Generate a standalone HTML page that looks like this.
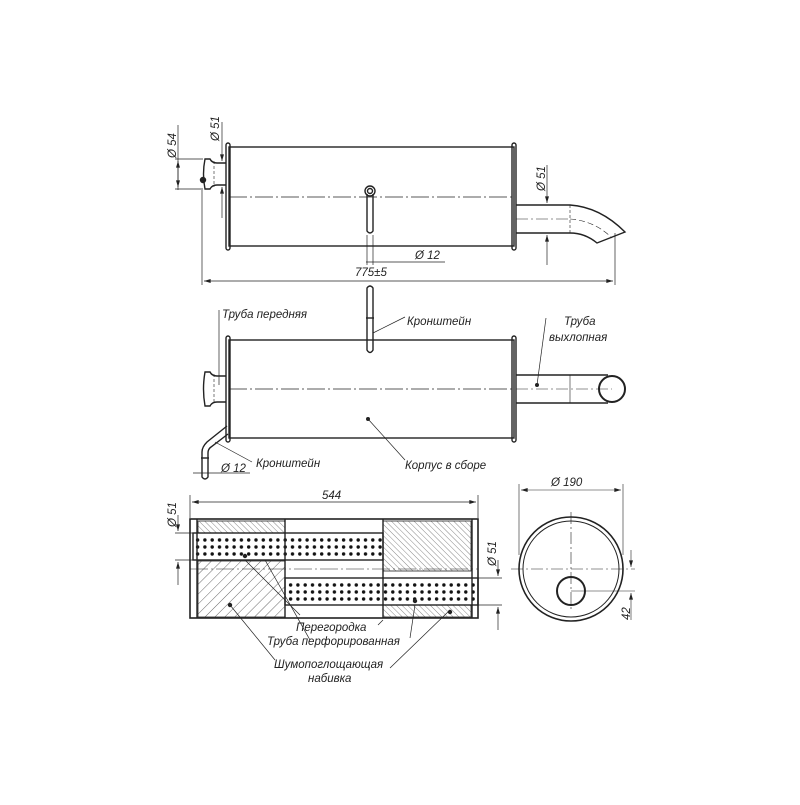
<!DOCTYPE html>
<html><head><meta charset="utf-8"><style>
html,body{margin:0;padding:0;background:#fff}
svg text{font-family:"Liberation Sans",sans-serif;font-style:italic;fill:#222}
</style></head><body>
<svg width="800" height="800" viewBox="0 0 800 800" xmlns="http://www.w3.org/2000/svg">
<defs>
<pattern id="h1" width="7" height="7" patternUnits="userSpaceOnUse" patternTransform="rotate(45)">
<line x1="0" y1="0" x2="0" y2="7" stroke="#444" stroke-width="0.8"/></pattern>
<pattern id="h2" width="4" height="4" patternUnits="userSpaceOnUse" patternTransform="rotate(-45)">
<line x1="0" y1="0" x2="0" y2="4" stroke="#555" stroke-width="0.7"/></pattern>
<pattern id="d1" x="194" y="536.5" width="7.3" height="7" patternUnits="userSpaceOnUse">
<circle cx="3.6" cy="3.5" r="1.7" fill="#111"/></pattern>
<pattern id="d2" x="287" y="581.5" width="7.3" height="7" patternUnits="userSpaceOnUse">
<circle cx="3.6" cy="3.5" r="1.7" fill="#111"/></pattern>
<marker id="a" viewBox="0 0 10 6" refX="10" refY="3" markerWidth="10" markerHeight="4" orient="auto-start-reverse" markerUnits="userSpaceOnUse"><path d="M0,0 L10,3 L0,6z" fill="#222"/></marker>
</defs>
<g stroke="#222" fill="none" stroke-width="1.4">
<!-- VIEW 1 -->
<rect x="229" y="147" width="285" height="99"/>
<rect x="226" y="143" width="4" height="107" rx="2"/>
<rect x="512" y="143" width="4" height="107" rx="2"/>
<path d="M226,163 H217 Q212,163 210,159 H205 Q202,174 205,189 H210 Q212,185 217,185 H226"/>
<line x1="214" y1="161" x2="214" y2="187" stroke-width="0.6" stroke-dasharray="3,2"/>
<circle cx="203" cy="180" r="2.5" fill="#222"/>
<line x1="229" y1="197" x2="514" y2="197" stroke-width="0.7" stroke-dasharray="18,3,2,3"/>
<circle cx="370" cy="191" r="5"/><circle cx="370" cy="191" r="2.5"/>
<path d="M367,194 V231 Q370,235 373,231 V194"/>
<path d="M516,205 H570 Q600,207 625,232 L597,243 Q585,233 570,233 H516"/>
<line x1="570" y1="205" x2="570" y2="233" stroke-width="0.6" stroke-dasharray="3,2"/>
<line x1="516" y1="219" x2="570" y2="219" stroke-width="0.6" stroke-dasharray="12,3,2,3"/>
<path d="M570,219 Q595,221 612,238" stroke-width="0.6" stroke-dasharray="6,3"/>
<g stroke-width="0.7">
<line x1="202" y1="190" x2="202" y2="285"/><line x1="615" y1="233" x2="615" y2="285"/>
<line x1="204" y1="281" x2="613" y2="281" marker-start="url(#a)" marker-end="url(#a)"/>
<line x1="366" y1="262" x2="445" y2="262"/><line x1="367" y1="235" x2="367" y2="265"/><line x1="373" y1="235" x2="373" y2="265"/>
<line x1="175" y1="159" x2="203" y2="159"/><line x1="175" y1="189" x2="203" y2="189"/>
<line x1="178" y1="125" x2="178" y2="187" marker-end="url(#a)"/><line x1="178" y1="190" x2="178" y2="161" marker-end="url(#a)"/>
<line x1="222" y1="122" x2="222" y2="161" marker-end="url(#a)"/><line x1="222" y1="218" x2="222" y2="187" marker-end="url(#a)"/>
<line x1="547" y1="165" x2="547" y2="203" marker-end="url(#a)"/><line x1="547" y1="265" x2="547" y2="235" marker-end="url(#a)"/>
</g>
<!-- VIEW 2 -->
<rect x="229" y="340" width="285" height="98"/>
<rect x="226" y="336" width="4" height="106" rx="2"/>
<rect x="512" y="336" width="4" height="106" rx="2"/>
<path d="M226,376 H217 Q212,376 210,372 H205 Q202,389 205,406 H210 Q212,402 217,402 H226"/>
<line x1="214" y1="374" x2="214" y2="404" stroke-width="0.6" stroke-dasharray="3,2"/>
<line x1="229" y1="389" x2="514" y2="389" stroke-width="0.7" stroke-dasharray="18,3,2,3"/>
<path d="M367,288 Q370,284 373,288 V350 Q370,355 367,350 Z"/>
<line x1="366" y1="318" x2="374" y2="318"/>
<path d="M516,375 H608 M516,403 H608"/>
<circle cx="612" cy="389" r="13" stroke-width="2"/>
<line x1="570" y1="375" x2="570" y2="403" stroke-width="0.6"/>
<line x1="516" y1="389" x2="612" y2="389" stroke-width="0.6" stroke-dasharray="12,3,2,3"/>
<path d="M227,426 L207,442 Q202,447 202,452 V477 Q205,481 208,477 V453 Q208,449 211,447 L228,434"/>
<line x1="201" y1="458" x2="209" y2="458"/>
<g stroke-width="0.7">
<line x1="219" y1="310" x2="219" y2="385"/>
<line x1="373" y1="333" x2="405" y2="317"/>
<line x1="546" y1="318" x2="537" y2="385"/>
<line x1="368" y1="419" x2="405" y2="460"/>
<line x1="215" y1="442" x2="252" y2="462"/>
<line x1="193" y1="473" x2="250" y2="473"/>
</g>
<circle cx="537" cy="385" r="1.3" fill="#222"/><circle cx="368" cy="419" r="1.3" fill="#222"/>
<!-- VIEW 3 -->
<rect x="198" y="521" width="87" height="12" fill="url(#h2)" stroke-width="0.8"/>
<rect x="383" y="521" width="88" height="50" fill="url(#h2)" stroke-width="0.8"/>
<rect x="198" y="561" width="87" height="56" fill="url(#h1)" stroke-width="0.8"/>
<rect x="383" y="605" width="88" height="12" fill="url(#h2)" stroke-width="0.8"/>
<rect x="194" y="536" width="188" height="22" fill="url(#d1)" stroke="none"/>
<rect x="287" y="581" width="188" height="22" fill="url(#d2)" stroke="none"/>
<rect x="193" y="533" width="190" height="27"/>
<rect x="285" y="578" width="193" height="27"/>
<rect x="190" y="519" width="288" height="99" stroke-width="1.6"/>
<line x1="197" y1="519" x2="197" y2="618"/><line x1="472" y1="519" x2="472" y2="618"/>
<line x1="285" y1="519" x2="285" y2="618"/><line x1="383" y1="519" x2="383" y2="618"/>
<line x1="190" y1="569" x2="478" y2="569" stroke-width="0.6" stroke-dasharray="18,3,2,3"/>
<g stroke-width="0.7">
<line x1="190" y1="495" x2="190" y2="518"/><line x1="478" y1="495" x2="478" y2="518"/>
<line x1="192" y1="502" x2="476" y2="502" marker-start="url(#a)" marker-end="url(#a)"/>
<line x1="175" y1="533" x2="193" y2="533"/><line x1="175" y1="560" x2="193" y2="560"/>
<line x1="178" y1="515" x2="178" y2="531" marker-end="url(#a)"/><line x1="178" y1="585" x2="178" y2="562" marker-end="url(#a)"/>
<line x1="478" y1="578" x2="502" y2="578"/><line x1="478" y1="605" x2="502" y2="605"/>
<line x1="498" y1="560" x2="498" y2="576" marker-end="url(#a)"/><line x1="498" y1="630" x2="498" y2="607" marker-end="url(#a)"/>
<line x1="245" y1="560" x2="300" y2="615"/><line x1="265" y1="560" x2="310" y2="640"/>
<line x1="230" y1="605" x2="275" y2="660"/>
<line x1="383" y1="620" x2="378" y2="625"/><line x1="415" y1="605" x2="410" y2="638"/>
<line x1="450" y1="610" x2="390" y2="668"/>
</g>
<circle cx="245" cy="556" r="1.5" fill="#222"/><circle cx="415" cy="601" r="1.5" fill="#222"/><circle cx="230" cy="605" r="1.5" fill="#222"/><circle cx="450" cy="612" r="1.5" fill="#222"/>
<!-- END VIEW -->
<circle cx="571" cy="569" r="52" stroke-width="1.6"/>
<circle cx="571" cy="569" r="48" stroke-width="1"/>
<circle cx="571" cy="591" r="14" stroke-width="2"/>
<g stroke-width="0.6">
<line x1="511" y1="569" x2="635" y2="569" stroke-dasharray="12,3,2,3"/>
<line x1="571" y1="512" x2="571" y2="610" stroke-dasharray="12,3,2,3"/>
<line x1="571" y1="591" x2="635" y2="591"/>
<line x1="519" y1="484" x2="519" y2="555"/><line x1="623" y1="484" x2="623" y2="555"/>
<line x1="521" y1="490" x2="621" y2="490" marker-start="url(#a)" marker-end="url(#a)"/>
<line x1="631" y1="550" x2="631" y2="567" marker-end="url(#a)"/><line x1="631" y1="620" x2="631" y2="593" marker-end="url(#a)"/>
</g>
</g>
<g font-size="11.5">
<text x="176" y="158" transform="rotate(-90 176 158)">Ø 54</text>
<text x="219" y="141" transform="rotate(-90 219 141)">Ø 51</text>
<text x="545" y="191" transform="rotate(-90 545 191)">Ø 51</text>
<text x="415" y="259">Ø 12</text>
<text x="355" y="276">775±5</text>
<text x="222" y="318">Труба передняя</text>
<text x="407" y="325">Кронштейн</text>
<text x="564" y="325">Труба</text>
<text x="549" y="341">выхлопная</text>
<text x="405" y="469">Корпус в сборе</text>
<text x="256" y="467">Кронштейн</text>
<text x="221" y="472">Ø 12</text>
<text x="322" y="499">544</text>
<text x="176" y="527" transform="rotate(-90 176 527)">Ø 51</text>
<text x="496" y="566" transform="rotate(-90 496 566)">Ø 51</text>
<text x="551" y="486">Ø 190</text>
<text x="630" y="620" transform="rotate(-90 630 620)">42</text>
<text x="296" y="631">Перегородка</text>
<text x="267" y="645">Труба перфорированная</text>
<text x="274" y="668">Шумопоглощающая</text>
<text x="308" y="682">набивка</text>
</g>
</svg>
</body></html>
